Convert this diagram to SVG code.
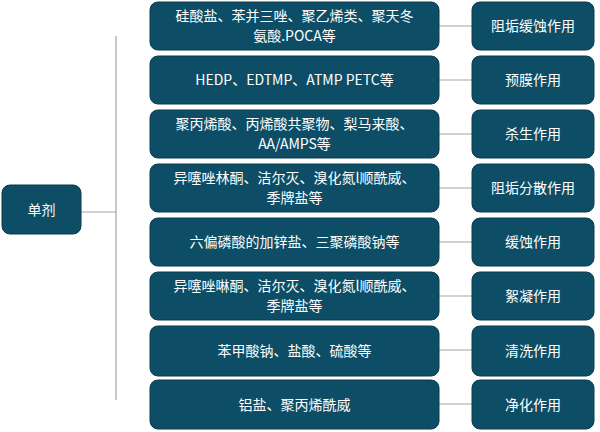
<svg xmlns="http://www.w3.org/2000/svg" width="600" height="432" viewBox="0 0 600 432">
<style>
.b{fill:#0d4e66;stroke:#0a3a4c;stroke-width:1}
.t{fill:#fff;font-family:"Noto Sans CJK SC","Noto Sans",sans-serif;font-size:14px;text-anchor:middle}
.c{stroke:#9aa6ab;stroke-width:1.2;fill:none}
</style>
<rect width="600" height="432" fill="#fff"/>
<g id="connectors">
<path class="c" d="M81 212H116M116 36V400"/>
<path class="c" d="M439 26H472M439 80H472M439 134H472M439 188H472M439 242H472M439 296H472M439 350H472M439 404H472"/>
</g>
<g id="n0"><rect class="b" x="2" y="185" width="79" height="49" rx="8"/><text class="t" x="41.5" y="215">单剂</text></g>
<g id="m1"><rect class="b" x="150" y="2" width="289" height="48" rx="8"/><text class="t" x="294.5" y="21">硅酸盐、苯并三唑、聚乙烯类、聚天冬</text><text class="t" x="294.5" y="41">氨酸.POCA等</text></g>
<g id="m2"><rect class="b" x="150" y="56" width="289" height="48" rx="8"/><text class="t" x="294.5" y="85">HEDP、EDTMP、ATMP PETC等</text></g>
<g id="m3"><rect class="b" x="150" y="110" width="289" height="48" rx="8"/><text class="t" x="294.5" y="129">聚丙烯酸、丙烯酸共聚物、梨马来酸、</text><text class="t" x="294.5" y="149">AA/AMPS等</text></g>
<g id="m4"><rect class="b" x="150" y="164" width="289" height="48" rx="8"/><text class="t" x="294.5" y="183">异噻唑林酮、洁尔灭、溴化氮l顺酰威、</text><text class="t" x="294.5" y="203">季牌盐等</text></g>
<g id="m5"><rect class="b" x="150" y="218" width="289" height="48" rx="8"/><text class="t" x="294.5" y="247">六偏磷酸的加锌盐、三聚磷酸钠等</text></g>
<g id="m6"><rect class="b" x="150" y="272" width="289" height="48" rx="8"/><text class="t" x="294.5" y="291">异噻唑啉酮、洁尔灭、溴化氮l顺酰威、</text><text class="t" x="294.5" y="311">季牌盐等</text></g>
<g id="m7"><rect class="b" x="150" y="326" width="289" height="50" rx="8"/><text class="t" x="294.5" y="356">苯甲酸钠、盐酸、硫酸等</text></g>
<g id="m8"><rect class="b" x="150" y="380" width="289" height="49" rx="8"/><text class="t" x="294.5" y="410">铝盐、聚丙烯酰威</text></g>
<g id="r1"><rect class="b" x="472" y="2" width="122" height="48" rx="8"/><text class="t" x="533" y="31">阻垢缓蚀作用</text></g>
<g id="r2"><rect class="b" x="472" y="56" width="122" height="48" rx="8"/><text class="t" x="533" y="85">预膜作用</text></g>
<g id="r3"><rect class="b" x="472" y="110" width="122" height="48" rx="8"/><text class="t" x="533" y="139">杀生作用</text></g>
<g id="r4"><rect class="b" x="472" y="164" width="122" height="48" rx="8"/><text class="t" x="533" y="193">阻垢分散作用</text></g>
<g id="r5"><rect class="b" x="472" y="218" width="122" height="48" rx="8"/><text class="t" x="533" y="247">缓蚀作用</text></g>
<g id="r6"><rect class="b" x="472" y="272" width="122" height="48" rx="8"/><text class="t" x="533" y="301">絮凝作用</text></g>
<g id="r7"><rect class="b" x="472" y="326" width="122" height="50" rx="8"/><text class="t" x="533" y="356">清洗作用</text></g>
<g id="r8"><rect class="b" x="472" y="380" width="122" height="49" rx="8"/><text class="t" x="533" y="410">净化作用</text></g>
</svg>
